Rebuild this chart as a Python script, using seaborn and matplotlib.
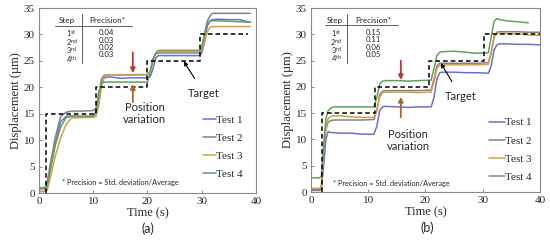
import numpy as np
import pandas as pd
import matplotlib
matplotlib.use("Agg")
import matplotlib.pyplot as plt
import seaborn as sns

# 1. style
sns.set_theme(style="white")
plt.rcParams["font.family"] = ["Liberation Serif", "DejaVu Serif"]
SANS = ["Lato", "DejaVu Sans"]

# 2. data ---------------------------------------------------------------
tests = ["Test 1", "Test 2", "Test 3", "Test 4"]
colors = ["#6b6fd4", "#8c7d8c", "#d4a043", "#5ea35e"]

# panel (a)
time_a = [0, 1.0, 1.5, 2.0, 3.0, 4.0, 5.0, 6.0, 8.0, 10.0, 10.5, 11.0, 11.5, 12.0,
          13.0, 15.0, 17.0, 19.0, 20.0, 20.5, 21.0, 21.5, 22.0, 23.0, 25.0, 27.0,
          29.5, 30.0, 30.5, 31.0, 31.5, 32.0, 33.0, 35.0, 37.0, 39.0]
test1_a = [0.3, 0.3, 1.0, 4.0, 9.5, 13.5, 14.5, 14.6, 14.5, 14.6, 15.0, 17.0, 20.5, 21.8,
           22.0, 21.7, 21.8, 21.8, 21.8, 22.0, 23.5, 25.5, 26.0, 26.0, 26.0, 26.0,
           26.0, 26.5, 28.5, 31.5, 32.6, 32.8, 32.9, 32.8, 32.8, 32.3]
test2_a = [0.8, 0.8, 2.0, 5.0, 10.5, 14.5, 15.3, 15.5, 15.5, 15.6, 16.0, 18.5, 21.5, 22.3,
           22.4, 22.3, 22.4, 22.4, 22.4, 23.0, 25.0, 26.5, 27.0, 27.0, 27.0, 27.0,
           27.0, 27.5, 30.0, 32.5, 33.5, 34.0, 34.0, 34.0, 34.0, 34.0]
test3_a = [0.3, 0.3, 0.5, 2.5, 7.0, 10.5, 13.0, 14.2, 14.3, 14.3, 14.5, 16.5, 20.0, 22.0,
           22.4, 22.4, 22.3, 22.4, 22.4, 23.0, 25.0, 26.3, 26.8, 26.8, 26.8, 26.8,
           26.8, 27.0, 28.5, 30.5, 31.3, 31.5, 31.5, 31.5, 31.5, 31.5]
test4_a = [1.0, 1.0, 1.5, 4.0, 9.0, 12.5, 14.3, 14.5, 14.5, 14.5, 15.5, 19.0, 20.8, 21.0,
           21.0, 21.0, 21.0, 21.0, 21.0, 23.0, 25.5, 26.3, 26.5, 26.5, 26.5, 26.5,
           26.5, 27.2, 30.0, 32.0, 32.5, 32.6, 32.6, 32.5, 32.4, 32.3]
target_t_a = [1.3, 1.3, 10.5, 20.0, 29.7, 38.5]
target_a = [0, 15, 20, 25, 30, 30]
steps = ["1", "2", "3", "4"]
suffix = ["st", "nd", "rd", "th"]
precision_a = ["0.04", "0.03", "0.02", "0.03"]

# panel (b)
time_b = [0, 1.5, 1.8, 2.2, 2.6, 3.0, 3.5, 4.0, 5.0, 7.0, 9.0, 11.0, 11.5, 12.0,
          12.5, 13.0, 15.0, 17.0, 19.0, 21.0, 21.5, 22.0, 22.5, 23.0, 25.0, 27.0,
          29.0, 31.0, 31.5, 32.0, 32.5, 33.0, 34.0, 36.0, 38.0, 40.0]
test1_b = [0.3, 0.3, 0.5, 5.0, 10.0, 11.5, 11.3, 11.3, 11.2, 11.2, 11.0, 11.0, 12.5, 15.5,
           16.2, 16.3, 16.2, 16.1, 16.2, 16.2, 18.0, 21.5, 22.7, 22.8, 22.8, 22.7,
           22.7, 22.6, 24.0, 27.0, 28.0, 28.2, 28.2, 28.1, 28.1, 28.0]
test2_b = [0.5, 0.5, 0.8, 7.0, 12.0, 13.3, 13.6, 13.7, 13.7, 13.7, 13.7, 13.8, 15.5, 18.5,
           19.2, 19.3, 19.3, 19.3, 19.3, 19.4, 21.5, 24.0, 24.5, 24.5, 24.5, 24.5,
           24.5, 24.6, 26.5, 29.5, 30.4, 30.5, 30.5, 30.5, 30.4, 30.4]
test3_b = [0.7, 0.7, 1.0, 8.0, 12.5, 14.0, 14.4, 14.5, 14.5, 14.3, 14.2, 14.2, 15.5, 18.0,
           18.9, 19.0, 19.0, 19.0, 18.9, 19.0, 21.0, 23.5, 24.1, 24.2, 24.2, 24.2,
           24.2, 24.3, 26.5, 29.5, 30.2, 30.2, 30.2, 30.1, 29.9, 29.8]
test4_b = [2.7, 2.7, 3.0, 9.0, 14.0, 15.5, 16.0, 16.2, 16.2, 16.2, 16.2, 16.2, 18.0, 20.5,
           21.1, 21.2, 21.2, 21.1, 21.2, 21.3, 23.5, 26.0, 26.6, 26.7, 26.8, 26.6,
           26.4, 26.5, 29.5, 32.5, 33.0, 32.8, 32.6, 32.4, 32.2, np.nan]
target_t_b = [1.9, 1.9, 11.2, 20.6, 30.3, 40.0]
target_b = [0, 15, 20, 25, 30, 30]
precision_b = ["0.15", "0.11", "0.06", "0.05"]


def long_df(t, series):
    frames = [pd.DataFrame({"Time": t, "Disp": v, "Test": name})
              for name, v in zip(tests, series)]
    return pd.concat(frames, ignore_index=True)


df_a = long_df(time_a, [test1_a, test2_a, test3_a, test4_a])
df_b = long_df(time_b, [test1_b, test2_b, test3_b, test4_b])

# 3. canvas ---------------------------------------------------------------
fig = plt.figure(figsize=(5.5, 2.52), dpi=100)
ax_a = fig.add_axes([0.0709, 0.234, 0.3945, 0.734])
ax_b = fig.add_axes([0.5655, 0.238, 0.416, 0.730])

red = "#b83a28"
brown = "#a8642a"


def panel(ax, df, tt, tv, prec, cfg):
    sns.lineplot(data=df, x="Time", y="Disp", hue="Test", palette=colors,
                 lw=1.1, sort=False, ax=ax)
    ax.plot(tt, tv, color="black", ls=(0, (3, 2)), lw=1.1, drawstyle="steps-post")
    ax.set_xlim(0, 40)
    ax.set_ylim(0, 35)
    ax.set_xticks([0, 10, 20, 30, 40])
    ax.set_yticks([0, 5, 10, 15, 20, 25, 30, 35])
    ax.tick_params(direction="in", length=2.5, width=0.6, color="#777777",
                   labelsize=8, pad=3, left=True, bottom=True)
    for s in ax.spines.values():
        s.set_color("#8a8a8a")
        s.set_linewidth(0.8)
    ax.set_xlabel("Time (s)", fontsize=9, labelpad=1)
    ax.set_ylabel("Displacement (\u00b5m)", fontsize=9, labelpad=1)

    # legend
    ax.legend(loc="center right", bbox_to_anchor=cfg["leg"], frameon=False,
              handlelength=cfg["hl"], handletextpad=0.05, labelspacing=0.75,
              fontsize=8, borderaxespad=0)

    # precision table (one text block per column)
    sx, vline, px = cfg["tab"]
    ax.text(sx, 32.6, "Step", family=SANS, fontsize=5.8, ha="center", va="center")
    ax.text(px, 32.6, "Precision*", family=SANS, fontsize=5.8, ha="center", va="center")
    ax.plot(cfg["hl_x"], [31.7, 31.7], color="#444444", lw=0.6)
    ax.plot([vline, vline], [33.8, 24.6], color="#444444", lw=0.6)
    rows = "\n".join(n + r"$^{\mathregular{" + s + "}}$" for n, s in zip(steps, suffix))
    ax.text(vline - 1.9, 31.2, rows, family=SANS, fontsize=5.4, ha="center",
            va="top", linespacing=0.72)
    ax.text(px, 31.0, "\n".join(prec), family=SANS, fontsize=5.6, ha="center",
            va="top", linespacing=1.05)
    ax.text(cfg["foot"][0], cfg["foot"][1], "* Precision = Std. deviation/Average",
            family=SANS, fontsize=5.3, ha="left", va="center")

    # position variation arrows
    ax_x = cfg["arr_x"]
    ax.annotate("", xy=(ax_x, cfg["down"][1]), xytext=(ax_x, cfg["down"][0]),
                arrowprops=dict(arrowstyle="-|>", color=red, lw=1.3,
                                mutation_scale=7, shrinkA=0, shrinkB=0))
    ax.annotate("", xy=(ax_x, cfg["up"][1]), xytext=(ax_x, cfg["up"][0]),
                arrowprops=dict(arrowstyle="-|>", color=brown, lw=1.3,
                                mutation_scale=7, shrinkA=0, shrinkB=0))
    ax.text(cfg["pv"][0], cfg["pv"][1], "Position\nvariation", family=SANS,
            fontsize=8, ha="center", va="center", linespacing=1.15)
    ax.annotate("Target", xy=cfg["tgt_xy"], xytext=cfg["tgt_text"],
                family=SANS, fontsize=8, ha="center", va="center",
                arrowprops=dict(arrowstyle="-|>", color="black", lw=0.8,
                                mutation_scale=6, shrinkA=5, shrinkB=0))


panel(ax_a, df_a, target_t_a, target_a, precision_a, dict(
    leg=(0.96, 0.25), hl=1.1, tab=(5.1, 7.9, 12.5), hl_x=[3.0, 17.1],
    foot=(4.2, 1.9), arr_x=17.3, down=(26.6, 22.7), up=(17.2, 20.6),
    pv=(19.5, 15.1), tgt_xy=(26.7, 24.9), tgt_text=(30.4, 18.9)))
panel(ax_b, df_b, target_t_b, target_b, precision_b, dict(
    leg=(0.985, 0.23), hl=1.4, tab=(4.2, 6.3, 10.9), hl_x=[2.4, 15.2],
    foot=(3.9, 1.6), arr_x=15.7, down=(25.0, 21.3), up=(14.2, 18.1),
    pv=(17.0, 9.8), tgt_xy=(22.7, 24.5), tgt_text=(26.2, 18.2)))

fig.text(148 / 550, 1 - 229 / 252, "(a)", family=SANS, fontsize=9, ha="center", va="center")
fig.text(427 / 550, 1 - 228 / 252, "(b)", family=SANS, fontsize=9, ha="center", va="center")

plt.savefig("out.png", dpi=100)
